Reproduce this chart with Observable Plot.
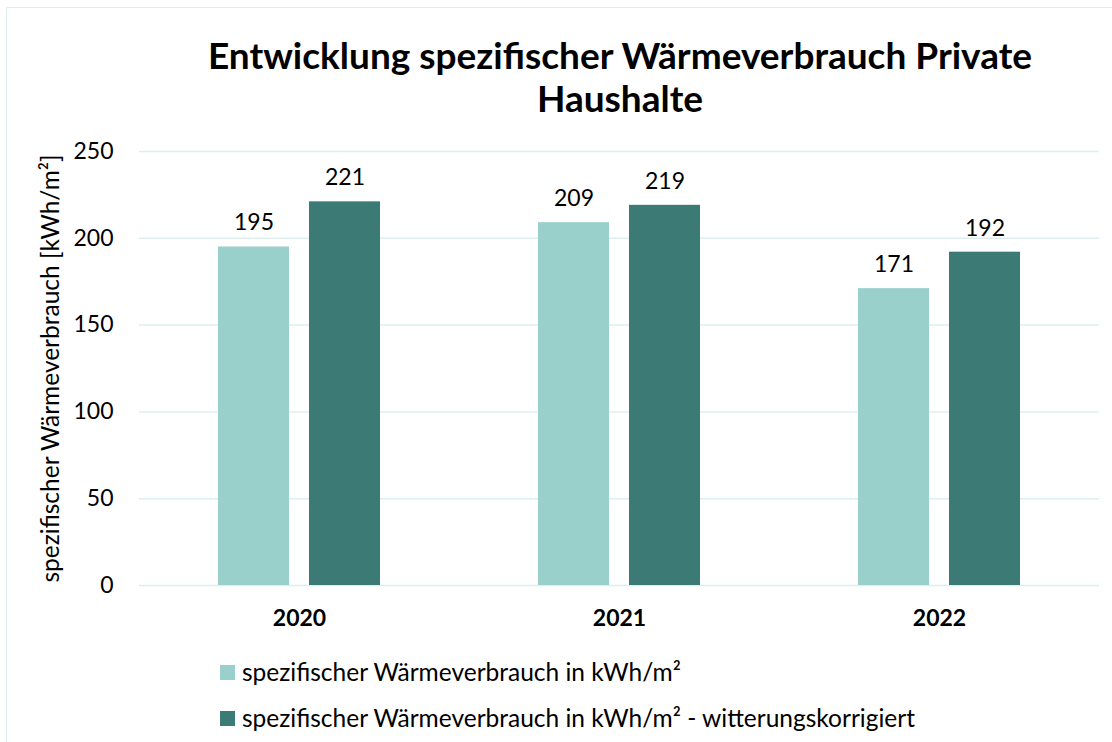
<!DOCTYPE html>
<html>
<head>
<meta charset="utf-8">
<script src="https://cdn.jsdelivr.net/npm/d3@7"></script>
<script src="https://cdn.jsdelivr.net/npm/@observablehq/plot@0.6"></script>
<style>
  body { margin: 0; background: #fff; font-family: Lato, "Open Sans", sans-serif; }
  #frame { position: absolute; left: 6px; top: 7px; width: 1110px; height: 740px; border: 1.5px solid #dcefee; box-sizing: border-box; }
  #title { position: absolute; left: 150px; width: 940px; top: 33px; text-align: center; font-size: 37px; font-weight: bold; line-height: 43px; color: #000; }
  #chart { position: absolute; left: 0; top: 130px; }
  .leg { position: absolute; left: 220px; font-size: 24.5px; line-height: 28px; color: #000; display: flex; align-items: center; }
  .sw { width: 15px; height: 15px; margin-right: 7px; display: inline-block; }
</style>
</head>
<body>
<div id="frame"></div>
<div id="title">Entwicklung spezifischer Wärmeverbrauch Private<br>Haushalte</div>
<div id="chart"></div>
<div class="leg" style="top:658px"><span class="sw" style="background:#99d0cb"></span>spezifischer Wärmeverbrauch in kWh/m²</div>
<div class="leg" style="top:704px"><span class="sw" style="background:#3b7a75"></span>spezifischer Wärmeverbrauch in kWh/m² - witterungskorrigiert</div>
<script>
const years = ["2020", "2021", "2022"];
const seriesNames = ["spezifischer Wärmeverbrauch in kWh/m²", "spezifischer Wärmeverbrauch in kWh/m² - witterungskorrigiert"];
const valuesRaw = [195, 209, 171];
const valuesCorrected = [221, 219, 192];
const colors = ["#99d0cb", "#3b7a75"];
const yTicks = [0, 50, 100, 150, 200, 250];

const data = [];
years.forEach((y, i) => {
  data.push({year: y, series: seriesNames[0], value: valuesRaw[i]});
  data.push({year: y, series: seriesNames[1], value: valuesCorrected[i]});
});

const plot = Plot.plot({
  width: 1112,
  height: 510,
  marginLeft: 139,
  marginRight: 13,
  marginTop: 21,
  marginBottom: 55,
  style: {fontFamily: "Lato, 'Open Sans', sans-serif", fontSize: "23px", color: "#000", background: "transparent"},
  fx: {domain: years, padding: 0, label: null},
  x: {domain: seriesNames, axis: null, paddingInner: 0.22, paddingOuter: 0.868},
  y: {domain: [0, 250], ticks: yTicks},
  color: {domain: seriesNames, range: colors},
  marks: [
    Plot.gridY(yTicks, {stroke: "#dcefee", strokeOpacity: 1, strokeWidth: 1.5}),
    Plot.axisY(yTicks, {tickSize: 0, tickPadding: 26, fontSize: 23, label: "spezifischer Wärmeverbrauch [kWh/m²]", labelAnchor: "center", labelArrow: "none", labelOffset: 98}),
    Plot.barY(data, {fx: "year", x: "series", y: "value", fill: "series"}),
    Plot.text(data, {fx: "year", x: "series", y: "value", text: d => String(d.value), dy: -24, fontSize: 23, fill: "#000"}),
    Plot.axisFx({anchor: "bottom", tickSize: 0, tickPadding: 24, fontWeight: "bold", fontSize: 23, label: null})
  ]
});
plot.querySelectorAll("[aria-label='y-axis label'] text, g[aria-label='y-axis label']").forEach(el => el.setAttribute("font-size", "24.5"));
document.getElementById("chart").appendChild(plot);
</script>
</body>
</html>
